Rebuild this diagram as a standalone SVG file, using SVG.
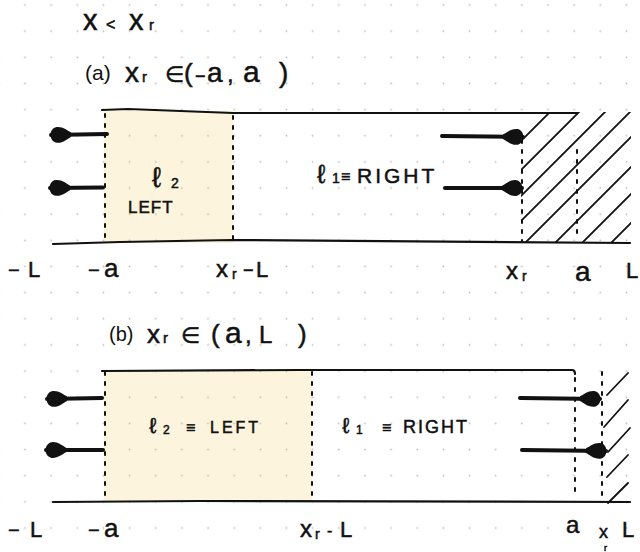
<svg xmlns="http://www.w3.org/2000/svg" width="640" height="552" viewBox="0 0 640 552">
<style>
.hw{font-family:"Liberation Sans","DejaVu Sans",sans-serif;fill:#111;stroke:#111;stroke-width:0.5}
.ar{font-family:"Liberation Sans",Arial,sans-serif;fill:#111}
.ln{fill:none;stroke:#111;stroke-width:2.2;stroke-linecap:round;stroke-linejoin:round}
.dash{fill:none;stroke:#111;stroke-width:2;stroke-dasharray:3 7;stroke-linecap:round}
.hatch{fill:none;stroke:#111;stroke-width:1.8;stroke-linecap:round}
.arrow{fill:none;stroke:#111;stroke-width:4;stroke-linecap:round;marker-end:url(#blob)}
.fillL{fill:#fcf4dc}
</style>
<defs>
<pattern id="dots" patternUnits="userSpaceOnUse" x="11.925" y="-8.075" width="26.15" height="26.15">
<circle cx="13.075" cy="13.075" r="0.9" fill="#bdbdbd"/>
</pattern>
<marker id="blob" viewBox="0 0 20 20" refX="19.5" refY="10" markerWidth="21" markerHeight="21" markerUnits="userSpaceOnUse" orient="auto">
<path d="M0,8 C4,6 8,2 14,2.5 C18,3 20,7 20,10 C20,13 18,17 14,17.5 C8,18 4,14 0,12 Z" fill="#111"/>
</marker>
<clipPath id="clipA"><rect x="521" y="112" width="110" height="131"/></clipPath>
</defs>
<rect width="640" height="552" fill="#fff"/>
<g id="fills">
<rect class="fillL" x="104" y="111" width="129" height="132"/>
<rect class="fillL" x="104" y="371" width="208" height="131"/>
</g>
<rect width="640" height="552" fill="url(#dots)"/>

<g id="title">
<text class="hw" y="30"><tspan x="83" font-size="29">x</tspan><tspan x="106" font-size="16">&lt;</tspan><tspan x="129" font-size="29">x</tspan><tspan x="149" font-size="15">r</tspan></text>
</g>

<g id="panel-a">
<text class="ar" x="85" y="80" font-size="21">(a)</text>
<text class="hw" y="82"><tspan x="125" font-size="28">x</tspan><tspan x="142" font-size="15">r</tspan><tspan x="165" font-size="22">∈</tspan><tspan x="184" font-size="26">(</tspan><tspan x="195" font-size="18">−</tspan><tspan x="207" font-size="28">a</tspan><tspan x="227" font-size="24">,</tspan><tspan x="243" font-size="30">a</tspan><tspan x="279" font-size="28">)</tspan></text>
<g id="a-channel">
<path class="ln" d="M102,110 L128,109 L233,113 L577,113"/>
<path class="ln" d="M53,244 L120,242 L232,240 L630,243"/>
<line class="dash" x1="105" y1="114" x2="105" y2="241"/>
<line class="dash" x1="233" y1="116" x2="233" y2="239"/>
<line class="dash" x1="522" y1="140" x2="522" y2="242"/>
<line class="dash" x1="577" y1="150" x2="577" y2="240"/>
</g>
<g id="a-hatch" clip-path="url(#clipA)">
<line class="hatch" x1="402" y1="260" x2="562" y2="100"/>
<line class="hatch" x1="431" y1="260" x2="591" y2="100"/>
<line class="hatch" x1="457" y1="260" x2="617" y2="100"/>
<line class="hatch" x1="482" y1="260" x2="642" y2="100"/>
<line class="hatch" x1="508" y1="260" x2="668" y2="100"/>
<line class="hatch" x1="538" y1="260" x2="698" y2="100"/>
<line class="hatch" x1="565" y1="260" x2="725" y2="100"/>
<line class="hatch" x1="594" y1="260" x2="754" y2="100"/>
</g>
<g id="a-left">
<text class="hw" x="152" y="187" font-size="28">ℓ</text>
<text class="hw" x="171" y="188" font-size="14">2</text>
<text class="hw" x="128" y="213" font-size="17" letter-spacing="1">LEFT</text>
</g>
<g id="a-right">
<text class="hw" x="317" y="183" font-size="26">ℓ</text>
<text class="hw" x="332" y="183" font-size="14">1</text>
<text class="hw" x="341" y="182" font-size="16">≡</text>
<text class="hw" x="357" y="183" font-size="21" letter-spacing="3">RIGHT</text>
</g>
<g id="a-axis" class="hw">
<text x="8" y="277" font-size="20">−</text>
<text x="28" y="277" font-size="22">L</text>
<text x="88" y="277" font-size="20">−</text>
<text x="104" y="277" font-size="26">a</text>
<text x="216" y="277" font-size="24">x</text>
<text x="232" y="279" font-size="14">r</text>
<text x="243" y="276" font-size="18">−</text>
<text x="256" y="277" font-size="22">L</text>
<text x="506" y="279" font-size="24">x</text>
<text x="522" y="281" font-size="14">r</text>
<text x="575" y="281" font-size="28">a</text>
<text x="626" y="278" font-size="22">L</text>
</g>
</g>

<g id="panel-b">
<text class="ar" x="109" y="341" font-size="20">(b)</text>
<text class="hw" y="343"><tspan x="147" font-size="26">x</tspan><tspan x="163" font-size="15">r</tspan><tspan x="181" font-size="22">∈</tspan><tspan x="211" font-size="26">(</tspan><tspan x="225" font-size="30">a</tspan><tspan x="245" font-size="24">,</tspan><tspan x="259" font-size="24">L</tspan><tspan x="298" font-size="26">)</tspan></text>
<g id="b-channel">
<path class="ln" d="M102,371 L300,370 L572,370 Q575,370 575,374"/>
<path class="ln" d="M53,502 L200,501 L630,502"/>
<line class="dash" x1="105" y1="372" x2="105" y2="500"/>
<line class="dash" x1="312" y1="372" x2="312" y2="499"/>
<line class="dash" x1="575" y1="378" x2="575" y2="498"/>
<line class="dash" x1="602" y1="372" x2="602" y2="502"/>
</g>
<g id="b-hatch">
<line class="hatch" x1="607" y1="395" x2="628" y2="373"/>
<line class="hatch" x1="604" y1="427" x2="628" y2="400"/>
<line class="hatch" x1="608" y1="452" x2="630" y2="428"/>
<line class="hatch" x1="607" y1="477" x2="628" y2="455"/>
<line class="hatch" x1="608" y1="503" x2="628" y2="483"/>
</g>
<g id="b-left">
<text class="hw" x="149" y="433" font-size="22">ℓ</text>
<text class="hw" x="163" y="434" font-size="12">2</text>
<text class="hw" x="186" y="433" font-size="16">≡</text>
<text class="hw" x="210" y="433" font-size="16" letter-spacing="3">LEFT</text>
</g>
<g id="b-right">
<text class="hw" x="342" y="433" font-size="22">ℓ</text>
<text class="hw" x="356" y="434" font-size="12">1</text>
<text class="hw" x="382" y="433" font-size="16">≡</text>
<text class="hw" x="403" y="433" font-size="18" letter-spacing="2">RIGHT</text>
</g>
<g id="b-axis" class="hw">
<text x="8" y="537" font-size="20">−</text>
<text x="30" y="537" font-size="22">L</text>
<text x="88" y="537" font-size="20">−</text>
<text x="104" y="537" font-size="26">a</text>
<text x="300" y="537" font-size="24">x</text>
<text x="315" y="539" font-size="14">r</text>
<text x="327" y="536" font-size="16">-</text>
<text x="340" y="537" font-size="22">L</text>
<text x="566" y="533" font-size="24">a</text>
<text x="599" y="538" font-size="18">x</text>
<text x="604" y="551" font-size="9">r</text>
<text x="622" y="537" font-size="22">L</text>
</g>
</g>

<g id="connectors">
<line class="arrow" x1="107" y1="134" x2="51" y2="135"/>
<line class="arrow" x1="103" y1="187.5" x2="50" y2="188"/>
<line class="arrow" x1="442" y1="136" x2="523" y2="137"/>
<line class="arrow" x1="445" y1="188" x2="522" y2="188"/>
<line class="arrow" x1="102" y1="398" x2="47" y2="399"/>
<line class="arrow" x1="103" y1="450" x2="46" y2="450" stroke-width="5"/>
<line class="arrow" x1="520" y1="398" x2="600" y2="399"/>
<line class="arrow" x1="522" y1="450" x2="606" y2="451" stroke-width="5"/>
</g>
</svg>
